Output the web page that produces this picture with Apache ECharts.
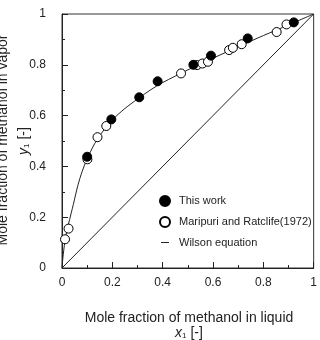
<!DOCTYPE html>
<html><head><meta charset="utf-8">
<script src="https://cdn.jsdelivr.net/npm/echarts@6/dist/echarts.min.js"></script>
<style>html,body{margin:0;padding:0;background:#fff;}#c{width:320px;height:340px;}</style>
</head><body><div id="c"></div>
<script>
var xTicks = [0, 0.2, 0.4, 0.6, 0.8, 1];
var yTicks = [0, 0.2, 0.4, 0.6, 0.8, 1];
var thisWork = [[0.100,0.438],[0.196,0.585],[0.307,0.672],[0.380,0.735],[0.522,0.800],[0.592,0.836],[0.738,0.904],[0.921,0.967]];
var maripuri = [[0.012,0.113],[0.026,0.155],[0.101,0.428],[0.141,0.515],[0.176,0.559],[0.473,0.766],[0.537,0.799],[0.558,0.805],[0.580,0.812],[0.664,0.858],[0.679,0.867],[0.714,0.881],[0.853,0.929],[0.892,0.959]];
var wilson = [[0,0],[0.003,0.035],[0.007,0.07],[0.012,0.108],[0.02,0.15],[0.03,0.19],[0.045,0.25],[0.063,0.325],[0.08,0.38],[0.1,0.43],[0.13,0.49],[0.16,0.535],[0.2,0.583],[0.25,0.628],[0.3,0.665],[0.35,0.70],[0.4,0.73],[0.5,0.78],[0.6,0.826],[0.7,0.871],[0.8,0.915],[0.9,0.957],[1,1]];
var diagonal = [[0,0],[1,1]];

var chart = echarts.init(document.getElementById('c'), null, {renderer:'canvas'});
var axisCommon = {
  type:'value', min:0, max:1, interval:0.2,
  axisLine:{show:true, lineStyle:{color:'#222', width:1}},
  axisTick:{show:true, inside:true, length:6, lineStyle:{color:'#222'}},
  minorTick:{show:true, splitNumber:2, length:3, lineStyle:{color:'#222'}},
  splitLine:{show:false},
  axisLabel:{color:'#222', fontSize:12, fontFamily:'Liberation Sans, Arial'}
};
chart.setOption({
  animation:false,
  backgroundColor:'#fff',
  grid:{left:62, top:14, width:254, height:254, show:true, borderColor:'#333', borderWidth:1, backgroundColor:'transparent'},
  xAxis: Object.assign({}, axisCommon, {axisLabel:Object.assign({}, axisCommon.axisLabel, {margin:9})}),
  yAxis: Object.assign({}, axisCommon, {axisLabel:Object.assign({}, axisCommon.axisLabel, {margin:16})}),
  legend:{
    orient:'vertical', left:159, top:195, padding:0, itemWidth:10, itemHeight:10, itemGap:9,
    data:[
      {name:'This work', icon:'circle'},
      {name:'Maripuri and Ratclife(1972)', icon:'circle'},
      {name:'Wilson equation', icon:'path://M0,0 M1,4.5 L9,4.5 L9,5.5 L1,5.5 Z M10,10', itemStyle:{color:'#222', borderWidth:0}}
    ],
    textStyle:{color:'#222', fontSize:11, fontFamily:'Liberation Sans, Arial', padding:[0,0,0,4]}
  },
  series:[
    {name:'diag', type:'line', data:diagonal, symbol:'none', lineStyle:{color:'#222', width:1}, silent:true, z:1},
    {name:'Wilson equation', type:'line', data:wilson, symbol:'none', smooth:0.3, lineStyle:{color:'#222', width:1}, itemStyle:{color:'#222'}, z:2},
    {name:'Maripuri and Ratclife(1972)', type:'scatter', data:maripuri, symbol:'circle', symbolSize:9, itemStyle:{color:'#fff', borderColor:'#000', borderWidth:1, opacity:1}, z:3},
    {name:'This work', type:'scatter', data:thisWork, symbol:'circle', symbolSize:9, itemStyle:{color:'#000', borderColor:'#000', borderWidth:1, opacity:1}, z:4}
  ],
  graphic:[
    {type:'text', x:189, y:318, style:{text:'Mole fraction of methanol in liquid', fill:'#222', font:'14px "Liberation Sans", Arial', align:'center', verticalAlign:'middle'}},
    {type:'text', x:189, y:333, style:{text:'{i|x}{s|1}{n| [-]}', align:'center', verticalAlign:'middle', fill:'#222', rich:{i:{fontStyle:'italic', fontSize:14, fontFamily:'Liberation Sans', fill:'#222'}, s:{fontSize:8, fontFamily:'Liberation Sans', fill:'#222', padding:[6,0,0,0]}, n:{fontSize:14, fontFamily:'Liberation Sans', fill:'#222'}}}},
    {type:'text', x:3, y:140, rotation:Math.PI/2, style:{text:'Mole fraction of methanol in vapor', fill:'#222', font:'14px "Liberation Sans", Arial', align:'center', verticalAlign:'middle'}},
    {type:'text', x:24, y:141, rotation:Math.PI/2, style:{text:'{i|y}{s|1}{n| [-]}', align:'center', verticalAlign:'middle', fill:'#222', rich:{i:{fontStyle:'italic', fontSize:14, fontFamily:'Liberation Sans', fill:'#222'}, s:{fontSize:8, fontFamily:'Liberation Sans', fill:'#222', padding:[6,0,0,0]}, n:{fontSize:14, fontFamily:'Liberation Sans', fill:'#222'}}}}
  ]
});
</script></body></html>
